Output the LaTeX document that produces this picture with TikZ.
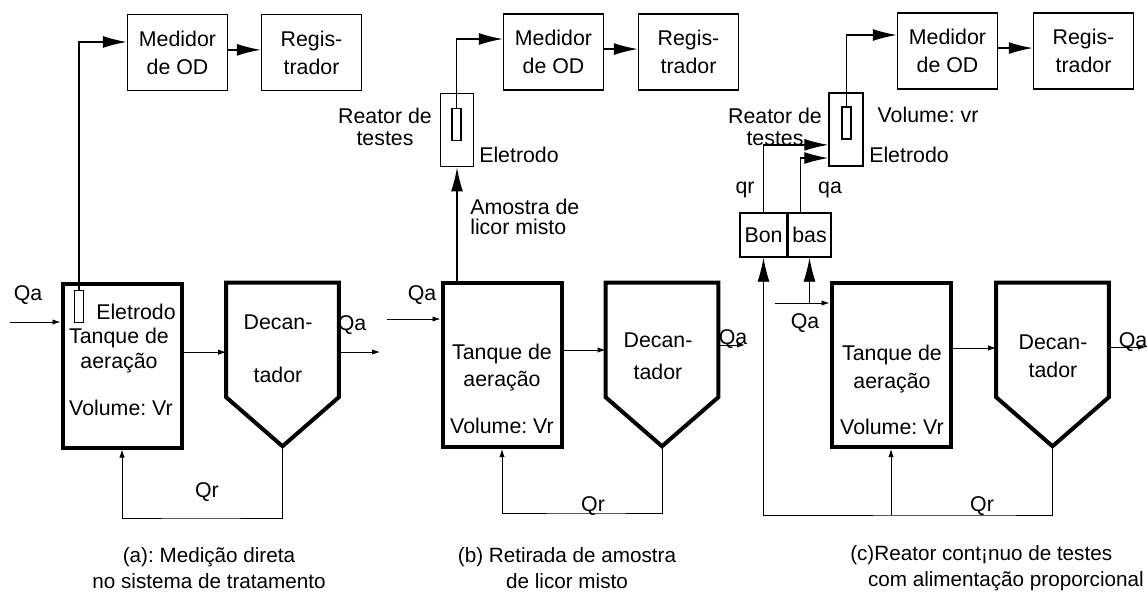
\documentclass[tikz,border=0pt]{standalone}
\usepackage{fontspec}
\setmainfont{Liberation Sans}
\usetikzlibrary{arrows.meta}
\frenchspacing
\begin{document}
\begin{tikzpicture}[x=0.75pt,y=-0.75pt,
  lbl/.style={inner sep=0pt, font=\fontsize{16}{19}\selectfont},
  caption/.style={inner sep=0pt, font=\fontsize{15.5}{19.5}\selectfont},
  instbox/.style={draw, line width=1.1pt, inner sep=0pt, align=center,
    minimum width=75pt, minimum height=57pt, font=\fontsize{16}{21}\selectfont},
  tankbox/.style={draw, line width=3pt, inner sep=0pt, minimum width=89.25pt, minimum height=123pt},
  region/.style={inner sep=0pt, minimum width=84pt, minimum height=122.25pt},
  decshape/.style={line width=3pt},
  probe/.style={draw, line width=0.9pt, inner sep=0pt, minimum width=6.75pt, minimum height=24pt},
  testbox/.style={draw, line width=1.1pt, inner sep=0pt, minimum width=24.75pt, minimum height=55pt},
  pumpbox/.style={draw, line width=1.1pt, inner sep=0pt, minimum height=33pt, font=\fontsize{16}{19}\selectfont},
  flow/.style={line width=0.7pt},
  small/.style={-{Latex[length=6pt,width=4pt]}},
  sig/.style={line width=1pt, -{Latex[length=18pt,width=9pt]}},
]
\useasboundingbox (0,0) rectangle (1147,600);

% ================= panel (a) =================
\node[instbox] (medA) at (177.5,52.5) {Medidor\\de OD};
\node[instbox] (regA) at (311.5,52.5) {Regis-\\trador};
\node[tankbox] (tankA) at (122,365.5) {};
\node[probe] (eA) at (79,306.5) {};
\node[region] (decA) at (282.5,364.5) {};
\draw[decshape] (decA.north west) -- (decA.north east) -- ([yshift=36.75pt]decA.south east)
  -- (decA.south) -- ([yshift=36.75pt]decA.south west) -- cycle;
\node[lbl] (elA) at (136,312) {Eletrodo};
\node[lbl] (tqA1) at (119,338) {Tanque de};
\node[lbl] (tqA2) at (119,363) {aeração};
\node[lbl] (tqA3) at (121,408) {Volume: Vr};
\node[lbl] (dcA1) at (278,322) {Decan-};
\node[lbl] (dcA2) at (278,375) {tador};
\node[lbl] (qaA1) at (28,295) {Qa};
\node[lbl] (qaA2) at (352,325) {Qa};
\node[lbl] (qrA) at (207,492) {Qr};
\node[caption, align=center] (capA) at (209,568)
  {(a): Medição direta\\no sistema de tratamento};
\coordinate (inA) at (10,322);
\coordinate (outA) at (380,352);
\coordinate (recA) at (200,518);
\draw[sig] (eA.north) |- ([yshift=7.9pt]medA.west);
\draw[sig] ([yshift=2pt]medA.east) -- ([yshift=2pt]medA.east -| regA.west);
\draw[flow,small] (inA) -- (inA -| tankA.west);
\draw[flow,small] ([yshift=10pt]tankA.east) -- ([yshift=10pt]tankA.east -| decA.west);
\draw[flow,small] (decA.east |- outA) -- (outA);
\draw[flow,small] (decA.south) |- (recA) -| (tankA.south);

% ================= panel (b) =================
\node[instbox] (medB) at (553.5,52) {Medidor\\de OD};
\node[instbox] (regB) at (688.5,52) {Regis-\\trador};
\node[testbox] (rB) at (457,130) {};
\node[probe] (eB) at (456.5,124.5) {};
\node[tankbox] (tankB) at (502,365) {};
\node[region] (decB) at (662,364.5) {};
\draw[decshape] (decB.north west) -- (decB.north east) -- ([yshift=36.75pt]decB.south east)
  -- (decB.south) -- ([yshift=36.75pt]decB.south west) -- cycle;
\node[lbl, align=center, font=\fontsize{16}{16}\selectfont] (rtB) at (385,127) {Reator de\\testes};
\node[lbl] (elB) at (519,155) {Eletrodo};
\node[lbl, anchor=west, align=left, font=\fontsize{16}{15}\selectfont] (amB) at (470,217) {Amostra de\\licor misto};
\node[lbl] (tqB1) at (502,354) {Tanque de};
\node[lbl] (tqB2) at (502,381) {aeração};
\node[lbl] (tqB3) at (502,426) {Volume: Vr};
\node[lbl] (dcB1) at (658,340) {Decan-};
\node[lbl] (dcB2) at (658,372) {tador};
\node[lbl] (qaB1) at (422,295) {Qa};
\node[lbl] (qaB2) at (733,339) {Qa};
\node[lbl] (qrB) at (593,506) {Qr};
\node[caption, align=center] (capB) at (567,568)
  {(b) Retirada de amostra\\de licor misto};
\coordinate (inB) at (387,319);
\coordinate (outB) at (745,345);
\coordinate (recB) at (590,513);
\draw[sig] (eB.north) |- ([yshift=9.75pt]medB.west);
\draw[sig] ([yshift=2.2pt]medB.east) -- ([yshift=2.2pt]medB.east -| regB.west);
\draw[sig] (rB.south |- tankB.north) -- (rB.south);
\draw[flow,small] (inB) -- (inB -| tankB.west);
\draw[flow,small] ([yshift=11.25pt]tankB.east) -- ([yshift=11.25pt]tankB.east -| decB.west);
\draw[flow,small] (decB.east |- outB) -- (outB);
\draw[flow,small] (decB.south) |- (recB) -| (tankB.south);

% ================= panel (c) =================
\node[instbox] (medC) at (947.5,51) {Medidor\\de OD};
\node[instbox] (regC) at (1083.5,51) {Regis-\\trador};
\node[testbox, minimum width=25.5pt] (rC) at (846,129.5) {};
\node[probe] (eC) at (846.5,123) {};
\node[pumpbox, minimum width=35.25pt] (bon) at (763.5,235) {Bon};
\node[pumpbox, minimum width=32.25pt] (bas) at (809.5,235) {bas};
\node[tankbox] (tankC) at (891,365) {};
\node[region] (decC) at (1052.5,364.5) {};
\draw[decshape] (decC.north west) -- (decC.north east) -- ([yshift=36.75pt]decC.south east)
  -- (decC.south) -- ([yshift=36.75pt]decC.south west) -- cycle;
\node[lbl, align=center, font=\fontsize{16}{16}\selectfont] (rtC) at (775,127) {Reator de\\testes};
\node[lbl] (vrC) at (928,115) {Volume: vr};
\node[lbl] (elC) at (909,155) {Eletrodo};
\node[lbl] (qrlC) at (745,190) {qr};
\node[lbl] (qalC) at (830,190) {qa};
\node[lbl] (tqC1) at (892,355) {Tanque de};
\node[lbl] (tqC2) at (892,383) {aeração};
\node[lbl] (tqC3) at (892,427) {Volume: Vr};
\node[lbl] (dcC1) at (1053,342) {Decan-};
\node[lbl] (dcC2) at (1053,370) {tador};
\node[lbl] (qaC1) at (805,323) {Qa};
\node[lbl] (qaC2) at (1133,342) {Qa};
\node[lbl] (qrC) at (982,506) {Qr};
\node[caption, anchor=west] (capC1) at (850,555) {(c)Reator cont¡nuo de testes};
\node[caption, anchor=east] (capC2) at (1144,581) {com alimentação proporcional};
\coordinate (inC) at (775,303);
\coordinate (outC) at (1146,347);
\coordinate (recC) at (980,515);
\draw[sig] (eC.north) |- ([yshift=12pt]medC.west);
\draw[sig] ([yshift=2.2pt]medC.east) -- ([yshift=2.2pt]medC.east -| regC.west);
\draw[sig] (bon.north) |- ([yshift=-11.5pt]rC.west);
\draw[sig] ([xshift=-7pt]bas.north) |- ([yshift=-21.4pt]rC.west);
\draw[flow,small] (inC) -- (inC -| tankC.west);
\draw[flow, -{Latex[length=18pt,width=9pt]}] (bas.south |- inC) -- (bas.south);
\draw[flow,small] ([yshift=12.75pt]tankC.east) -- ([yshift=12.75pt]tankC.east -| decC.west);
\draw[flow,small] (decC.east |- outC) -- (outC);
\draw[flow, -{Latex[length=18pt,width=9pt]}] (decC.south) |- (recC) -| (bon.south);
\draw[flow,small] (tankC.south |- recC) -- (tankC.south);
\end{tikzpicture}
\end{document}
